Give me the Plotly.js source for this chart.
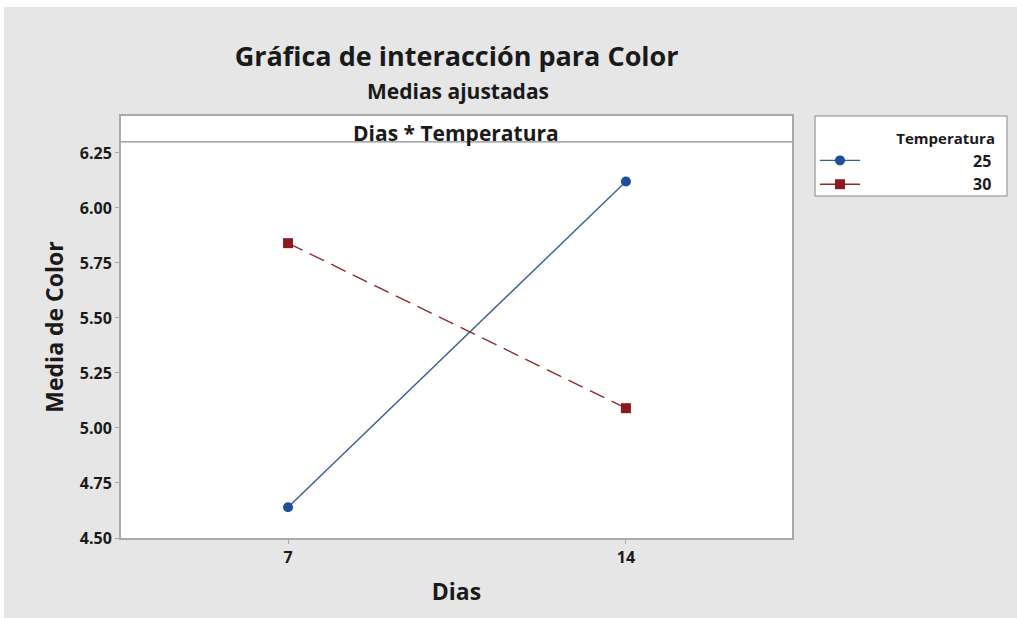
<!DOCTYPE html>
<html>
<head>
<meta charset="utf-8">
<script src="https://cdn.plot.ly/plotly-3.0.1.min.js"></script>
<style>html,body{margin:0;padding:0;background:#ffffff;}#chart{width:1017px;height:618px;}</style>
</head>
<body>
<div id="chart"></div>
<script>
// Data
const dias = [7, 14];
const temperaturas = ['25', '30'];
const media25 = [4.64, 6.12];
const media30 = [5.84, 5.09];
const yTicks = [4.50, 4.75, 5.00, 5.25, 5.50, 5.75, 6.00, 6.25];

const FONT = '"Open Sans", "Noto Sans", Arial, sans-serif';
const INK = '#1a1a1a';
const pad = s => '\u00A0'.repeat(26) + s;

const traces = [
  {
    x: dias, y: media25, name: pad(temperaturas[0]), type: 'scatter', mode: 'lines+markers',
    line: {color: '#365f8f', width: 1.4},
    marker: {symbol: 'circle', size: 10, color: '#1f4f98'}
  },
  {
    x: dias, y: media30, name: pad(temperaturas[1]), type: 'scatter', mode: 'lines+markers',
    line: {color: '#8e2a2a', width: 1.4, dash: '16px,8px'},
    marker: {symbol: 'square', size: 10, color: '#8b1a1f'}
  }
];

// pixel -> paper helpers for the decorative frame pieces
const px = p => (p - 121) / 671;
const py = p => (538 - p) / 422;

const layout = {
  width: 1017, height: 618,
  paper_bgcolor: '#e6e6e6', plot_bgcolor: '#ffffff',
  margin: {l: 121, r: 225, t: 116, b: 80, pad: 0, autoexpand: false},
  font: {family: FONT, color: INK},
  showlegend: true,
  title: {text: 'Gráfica de interacción para Color', x: 0.449, xanchor: 'center', y: 0.908, yanchor: 'middle',
          font: {family: FONT, size: 27, color: INK, weight: 'bold'}},
  xaxis: {
    range: [3.54, 17.44], tickvals: dias, ticktext: dias.map(String),
    showgrid: false, zeroline: false, showline: true, mirror: true,
    linecolor: '#a9a9a9', linewidth: 2, ticks: 'outside', ticklen: 4, tickcolor: '#a9a9a9',
    tickfont: {family: FONT, size: 16, color: INK, weight: 'bold'},
    title: {text: 'Dias', font: {family: FONT, size: 23, color: INK, weight: 'bold'}, standoff: 17}
  },
  yaxis: {
    range: [4.5, 6.418], tickvals: yTicks, ticktext: yTicks.map(v => v.toFixed(2)),
    showgrid: false, zeroline: false, showline: true, mirror: true,
    linecolor: '#a9a9a9', linewidth: 2, ticks: 'outside', ticklen: 4, tickcolor: '#a9a9a9',
    tickfont: {family: FONT, size: 16, color: INK, weight: 'bold'},
    title: {text: 'Media de Color', font: {family: FONT, size: 23, color: INK, weight: 'bold'}, standoff: 10}
  },
  legend: {
    x: px(815), xanchor: 'left', y: py(124), yanchor: 'top',
    bgcolor: 'rgba(0,0,0,0)', borderwidth: 0,
    font: {family: FONT, size: 16, color: INK, weight: 'bold'},
    title: {text: 'Temperatura', side: 'top right', font: {family: FONT, size: 15, color: INK, weight: 'bold'}},
    tracegroupgap: 0, itemwidth: 40
  },
  shapes: [
    {type: 'line', xref: 'paper', yref: 'y', x0: 0, x1: 1, y0: 6.30, y1: 6.30, line: {color: '#8c8c8c', width: 1.2}},
    {type: 'rect', xref: 'paper', yref: 'paper', x0: -0.2, x1: 1.4, y0: py(7), y1: 1.3, fillcolor: '#ffffff', line: {width: 0}, layer: 'below'},
    {type: 'rect', xref: 'paper', yref: 'paper', x0: -0.2, x1: px(4), y0: -0.2, y1: 1.3, fillcolor: '#ffffff', line: {width: 0}, layer: 'below'},
    {type: 'rect', xref: 'paper', yref: 'paper', x0: px(815), x1: px(1007), y0: py(116), y1: py(196), fillcolor: '#ffffff', line: {color: '#a9a9a9', width: 1.5}, layer: 'below'}
  ],
  annotations: [
    {text: 'Medias ajustadas', xref: 'paper', yref: 'paper', x: px(458), y: py(91), xanchor: 'center', yanchor: 'middle',
     showarrow: false, font: {family: FONT, size: 21, color: INK, weight: 'bold'}},
    {text: 'Dias * Temperatura', xref: 'paper', yref: 'paper', x: px(456), y: py(133), xanchor: 'center', yanchor: 'middle',
     showarrow: false, font: {family: FONT, size: 21, color: INK, weight: 'bold'}}
  ]
};

Plotly.newPlot('chart', traces, layout, {displayModeBar: false, staticPlot: true});
</script>
</body>
</html>
